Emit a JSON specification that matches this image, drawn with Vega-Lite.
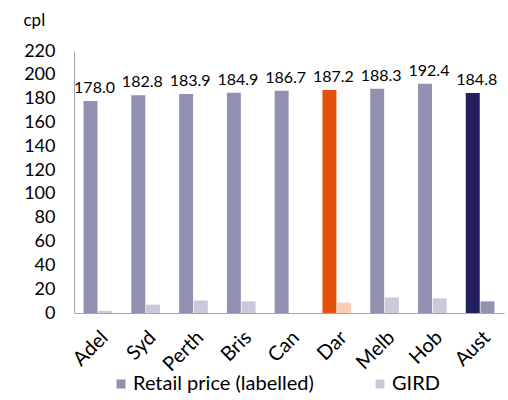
{
  "$schema": "https://vega.github.io/schema/vega-lite/v6.json",
  "width": 430,
  "height": 262,
  "autosize": {"type": "none"},
  "padding": {"left": 74, "top": 51, "right": 4, "bottom": 87},
  "config": {
    "font": "Lato",
    "view": {"stroke": null},
    "axis": {"labelColor": "#000000", "titleColor": "#000000", "domainColor": "#a6a6a6", "grid": false, "ticks": false, "labelFont": "Lato"}
  },
  "data": {
    "values": [
      {"city": "Adel", "series": "Retail price (labelled)", "key": "Retail price (labelled)", "value": 178.0},
      {"city": "Adel", "series": "GIRD", "key": "GIRD", "value": 1.7},
      {"city": "Syd", "series": "Retail price (labelled)", "key": "Retail price (labelled)", "value": 182.8},
      {"city": "Syd", "series": "GIRD", "key": "GIRD", "value": 7.0},
      {"city": "Perth", "series": "Retail price (labelled)", "key": "Retail price (labelled)", "value": 183.9},
      {"city": "Perth", "series": "GIRD", "key": "GIRD", "value": 10.6},
      {"city": "Bris", "series": "Retail price (labelled)", "key": "Retail price (labelled)", "value": 184.9},
      {"city": "Bris", "series": "GIRD", "key": "GIRD", "value": 9.8},
      {"city": "Can", "series": "Retail price (labelled)", "key": "Retail price (labelled)", "value": 186.7},
      {"city": "Can", "series": "GIRD", "key": "GIRD", "value": 0},
      {"city": "Dar", "series": "Retail price (labelled)", "key": "Dar retail", "value": 187.2},
      {"city": "Dar", "series": "GIRD", "key": "Dar GIRD", "value": 8.7},
      {"city": "Melb", "series": "Retail price (labelled)", "key": "Retail price (labelled)", "value": 188.3},
      {"city": "Melb", "series": "GIRD", "key": "GIRD", "value": 13.1},
      {"city": "Hob", "series": "Retail price (labelled)", "key": "Retail price (labelled)", "value": 192.4},
      {"city": "Hob", "series": "GIRD", "key": "GIRD", "value": 12.3},
      {"city": "Aust", "series": "Retail price (labelled)", "key": "Aust retail", "value": 184.8},
      {"city": "Aust", "series": "GIRD", "key": "Aust GIRD", "value": 9.8}
    ]
  },
  "encoding": {
    "x": {
      "field": "city",
      "type": "nominal",
      "sort": ["Adel", "Syd", "Perth", "Bris", "Can", "Dar", "Melb", "Hob", "Aust"],
      "scale": {"paddingInner": 0.4, "paddingOuter": 0.2},
      "axis": {"title": null, "labelAngle": -45, "labelFontSize": 20, "labelPadding": 14}
    },
    "xOffset": {
      "field": "series",
      "type": "nominal",
      "scale": {"domain": ["Retail price (labelled)", "GIRD"], "paddingInner": 0.05}
    },
    "y": {
      "field": "value",
      "type": "quantitative",
      "scale": {"domain": [0, 220], "nice": false},
      "axis": {
        "values": [0, 20, 40, 60, 80, 100, 120, 140, 160, 180, 200, 220],
        "labelFontSize": 18,
        "labelPadding": 19,
        "title": "cpl",
        "titleAngle": 0,
        "titleFontSize": 17,
        "titleFontWeight": "normal",
        "titleAlign": "left",
        "titleBaseline": "alphabetic",
        "titleX": -51,
        "titleY": -26
      }
    }
  },
  "layer": [
    {
      "mark": {"type": "bar"},
      "encoding": {
        "color": {
          "field": "key",
          "type": "nominal",
          "scale": {
            "domain": ["Retail price (labelled)", "GIRD", "Dar retail", "Dar GIRD", "Aust retail", "Aust GIRD"],
            "range": ["#9192b1", "#c9c9db", "#e2520a", "#fbcdb4", "#221f5f", "#9192b1"]
          },
          "legend": {
            "values": ["Retail price (labelled)", "GIRD"],
            "title": null,
            "orient": "none",
            "legendX": 37,
            "legendY": 323,
            "direction": "horizontal",
            "symbolType": "square",
            "symbolSize": 80,
            "symbolStrokeWidth": 0,
            "labelFontSize": 20,
            "labelLimit": 400,
            "labelOffset": 2,
            "labelColor": "#000000",
            "labelFont": "Lato",
            "columnPadding": 56
          }
        }
      }
    },
    {
      "transform": [{"filter": "datum.series === 'Retail price (labelled)'"}],
      "mark": {"type": "text", "baseline": "alphabetic", "dy": -8, "dx": 4, "fontSize": 16, "color": "#000000"},
      "encoding": {
        "text": {"field": "value", "type": "quantitative", "format": ".1f"}
      }
    }
  ]
}
